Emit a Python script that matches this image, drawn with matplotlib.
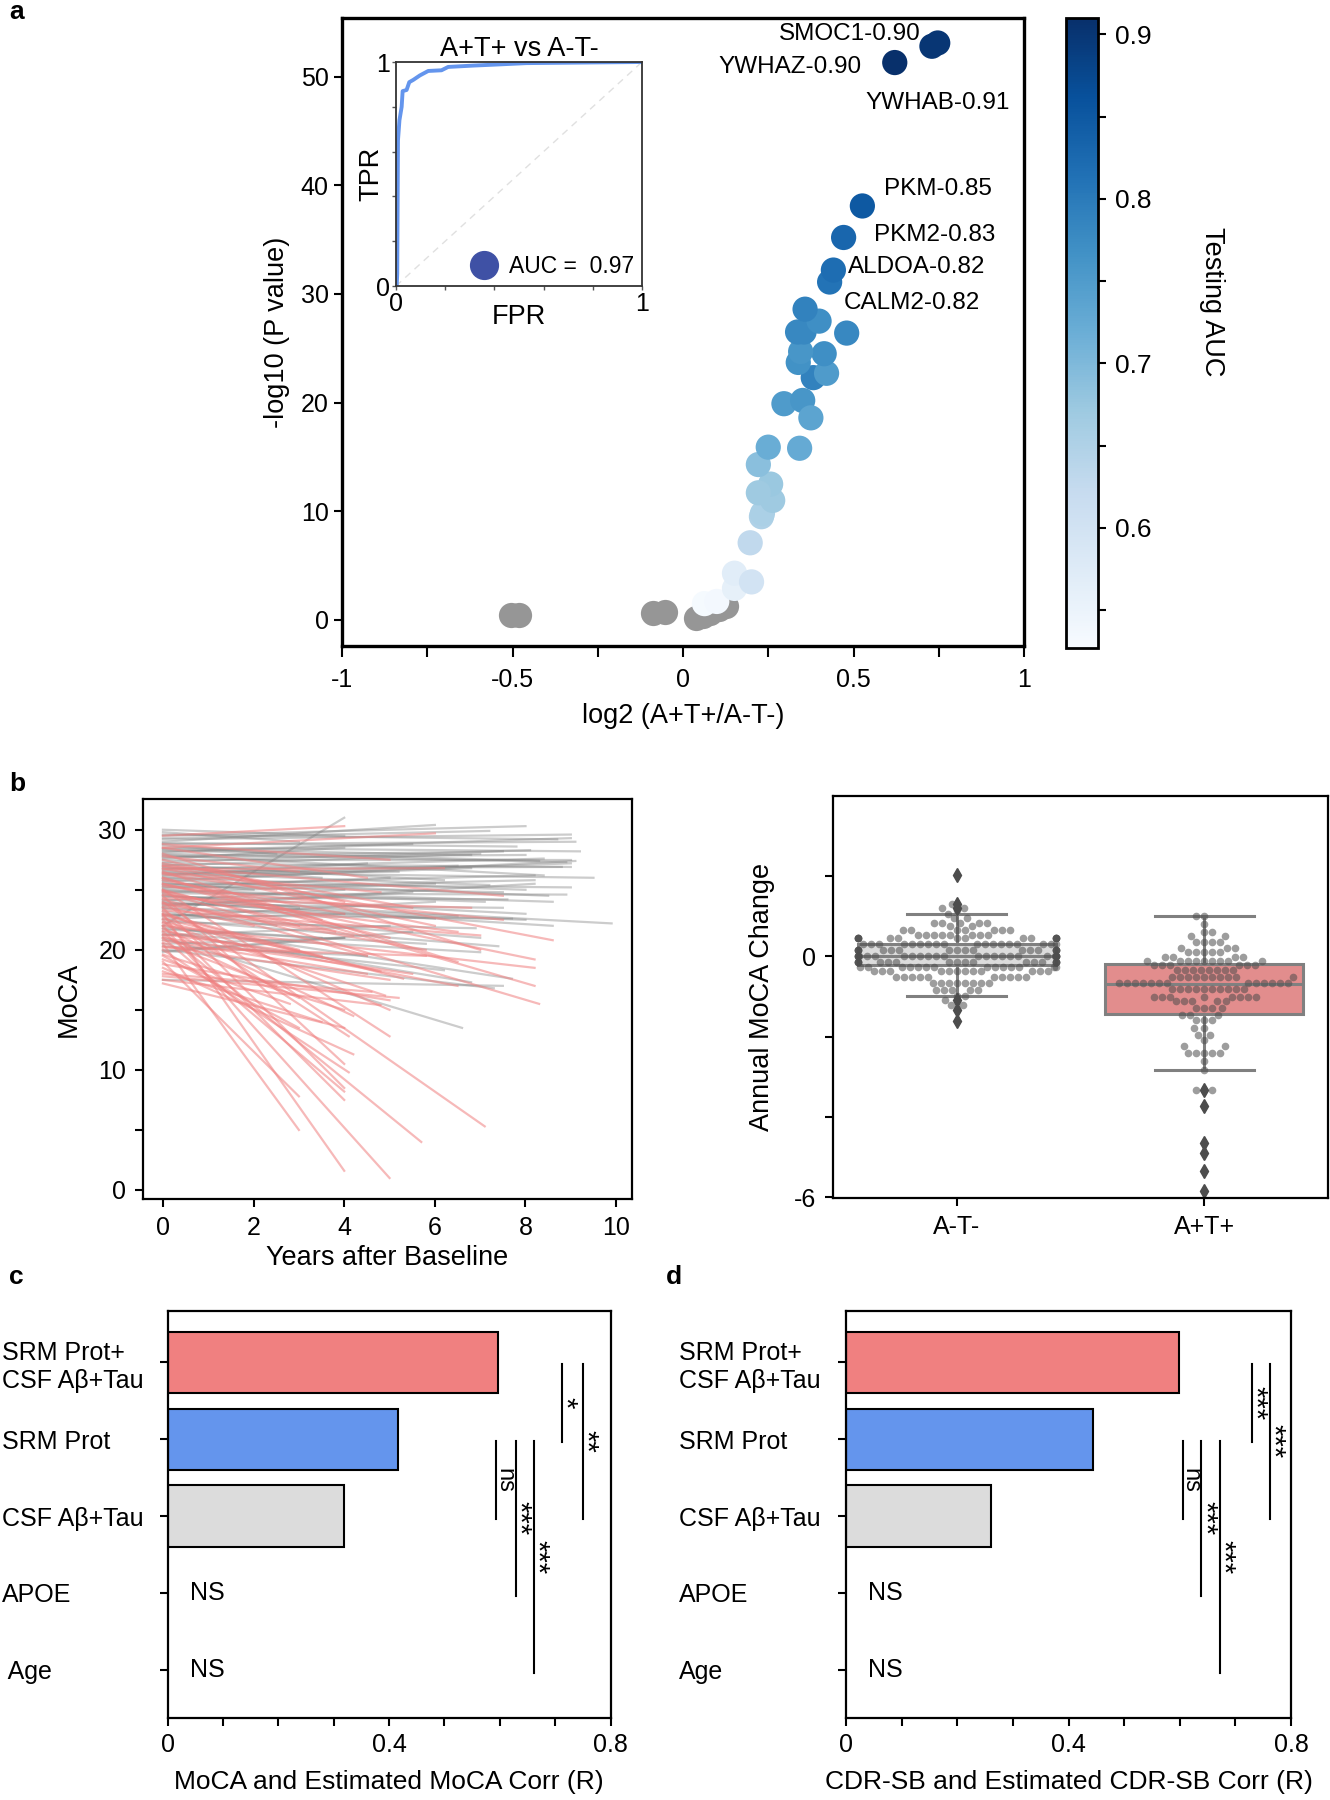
import warnings
import numpy as np
import matplotlib
matplotlib.use("Agg")
import matplotlib.pyplot as plt
from matplotlib.lines import Line2D
import seaborn as sns

warnings.filterwarnings("ignore")

# ---------------- data ----------------
# a: volcano, proteins that did not pass (grey)
ns_log2fc = [-0.503, -0.480, -0.089, -0.053, 0.037, 0.059, 0.079, 0.105, 0.125]
ns_logp = [0.48, 0.48, 0.68, 0.76, 0.20, 0.40, 0.68, 1.00, 1.30]

# a: proteins coloured by testing AUC
sig_log2fc = [0.063, 0.099, 0.151, 0.151, 0.201, 0.197, 0.230, 0.233, 0.263, 0.257,
              0.221, 0.221, 0.250, 0.342, 0.296, 0.351, 0.375, 0.382, 0.421, 0.414,
              0.338, 0.345, 0.336, 0.355, 0.399, 0.358, 0.480, 0.430, 0.441, 0.471,
              0.526, 0.621, 0.730, 0.747]
sig_logp = [1.5, 1.7, 2.9, 4.3, 3.5, 7.1, 9.5, 9.8, 11.0, 12.5,
            11.7, 14.3, 15.9, 15.8, 19.9, 20.2, 18.6, 22.3, 22.7, 24.5,
            23.7, 24.7, 26.5, 26.5, 27.5, 28.6, 26.4, 31.1, 32.2, 35.2,
            38.1, 51.3, 52.8, 53.1]
sig_auc = [0.53, 0.535, 0.56, 0.57, 0.60, 0.63, 0.65, 0.655, 0.67, 0.675,
           0.67, 0.69, 0.72, 0.725, 0.75, 0.76, 0.735, 0.79, 0.75, 0.77,
           0.765, 0.76, 0.78, 0.78, 0.77, 0.79, 0.78, 0.81, 0.82, 0.83,
           0.85, 0.91, 0.90, 0.90]

hit_gene = ["SMOC1", "YWHAZ", "YWHAB", "PKM", "PKM2", "ALDOA", "CALM2"]
hit_auc = [0.90, 0.90, 0.91, 0.85, 0.83, 0.82, 0.82]

# a inset: ROC curve
roc_fpr = [0.0, 0.003, 0.005, 0.008, 0.014, 0.023, 0.027, 0.043, 0.054, 0.07,
           0.097, 0.131, 0.185, 0.212, 0.314, 0.395, 0.53, 0.80, 1.0]
roc_tpr = [0.0, 0.003, 0.055, 0.65, 0.74, 0.80, 0.87, 0.875, 0.91, 0.92,
           0.94, 0.96, 0.963, 0.978, 0.984, 0.988, 0.995, 0.998, 1.0]
roc_auc = 0.97

# b left: MoCA trajectories (start score, years followed, end score)
neg_start = [30.0, 29.5, 29.2, 29.0, 28.8, 28.5, 28.3, 28.0, 27.8, 27.5,
             27.3, 27.0, 26.8, 26.5, 26.3, 26.0, 25.8, 25.5, 25.3, 25.0,
             24.8, 24.5, 24.2, 24.0, 23.8, 23.5, 23.0, 22.8, 22.5, 22.0,
             21.5, 21.0, 20.0, 19.8, 17.5, 22.0, 29.8, 28.7, 27.6, 26.9,
             26.2, 25.6, 25.2, 24.6, 24.1, 23.6, 23.2, 22.6, 21.8, 21.2,
             20.5, 28.1, 27.1, 26.6, 25.9, 24.9, 29.3, 28.4, 27.9, 26.1,
             25.1, 23.9, 29.6, 28.9, 28.2, 27.7, 27.2, 26.7, 26.4, 25.7,
             25.4, 24.7, 24.4, 23.7, 23.4, 22.9, 22.3, 21.7, 21.3, 20.8,
             20.3, 19.9]
neg_years = [4.0, 8.0, 9.0, 6.0, 9.1, 9.2, 8.3, 8.9, 7.5, 9.0,
             8.1, 7.0, 8.8, 9.5, 6.5, 8.0, 8.5, 9.0, 7.5, 8.6,
             6.0, 8.0, 9.9, 8.6, 7.5, 8.0, 7.0, 6.0, 7.4, 7.7,
             6.8, 6.6, 7.3, 4.0, 7.5, 4.0, 3.0, 2.5, 4.0, 3.5,
             4.5, 2.0, 5.0, 3.0, 4.0, 5.5, 2.5, 4.0, 3.5, 5.0,
             4.0, 5.5, 6.2, 5.2, 6.8, 7.1, 7.2, 6.8, 8.4, 9.0,
             8.2, 6.5, 8.7, 7.8, 9.0, 8.0, 9.0, 8.4, 7.2, 9.1,
             8.2, 8.9, 7.6, 8.2, 6.0, 7.7, 6.9, 5.8, 7.0, 6.2,
             4.5, 5.5]
neg_end = [29.5, 30.3, 29.6, 30.4, 29.0, 28.2, 27.4, 27.3, 28.2, 27.5,
           28.3, 28.0, 26.9, 26.0, 27.0, 25.0, 24.5, 25.2, 24.8, 24.0,
           25.5, 23.0, 22.2, 22.0, 23.5, 22.5, 21.0, 24.0, 20.3, 17.6,
           17.3, 13.5, 16.8, 21.0, 17.0, 31.0, 29.0, 28.0, 28.5, 26.0,
           27.2, 25.0, 26.0, 23.5, 25.0, 24.8, 22.0, 23.0, 21.0, 22.0,
           21.0, 28.8, 25.8, 26.5, 26.8, 24.0, 29.9, 27.9, 26.2, 27.2,
           25.8, 22.8, 29.2, 28.6, 29.3, 27.9, 26.9, 27.6, 25.4, 27.4,
           26.2, 24.6, 24.2, 25.5, 22.6, 22.6, 21.8, 20.5, 19.8, 18.3,
           19.5, 21.5]

pos_start = [22.0, 23.0, 21.5, 24.0, 20.5, 19.0, 22.5, 21.0, 23.5, 20.0,
             24.5, 18.5, 22.8, 17.2, 19.5, 25.0, 21.8, 17.5, 23.2, 18.0,
             18.8, 24.8, 26.0, 22.0, 25.5, 27.0, 20.3, 26.5, 21.0, 28.0,
             29.5, 28.5, 27.5, 26.0, 25.5, 24.2, 23.0, 27.2, 26.8, 25.0,
             24.6, 23.8, 22.6, 28.5, 27.8, 26.3, 25.8, 23.6, 22.3, 21.3,
             20.8, 28.8, 27.0, 25.3, 24.3, 26.7, 23.3, 21.6, 20.2, 19.6,
             18.2, 17.8, 22.9, 20.6, 21.2, 22.2, 19.2, 24.9, 26.4, 23.9]
pos_years = [5.0, 4.0, 5.7, 7.1, 3.0, 3.0, 4.0, 4.0, 4.0, 4.1,
             4.0, 4.2, 4.1, 4.0, 3.0, 5.0, 4.2, 4.8, 5.0, 4.6,
             5.0, 8.3, 8.2, 8.2, 8.2, 8.6, 5.0, 6.5, 5.5, 7.0,
             4.0, 6.0, 4.0, 3.5, 5.0, 4.5, 3.0, 5.5, 6.0, 3.0,
             6.5, 5.8, 4.8, 4.5, 3.0, 2.5, 4.0, 2.0, 3.5, 3.0,
             4.5, 5.0, 7.5, 7.5, 6.8, 6.2, 7.0, 6.5, 5.8, 4.0,
             3.5, 5.2, 5.3, 2.5, 3.0, 4.9, 2.8, 4.2, 4.8, 3.8]
pos_end = [1.0, 1.6, 4.0, 5.3, 5.0, 7.8, 7.5, 8.2, 8.5, 9.8,
           10.5, 11.3, 12.8, 13.5, 13.5, 12.8, 14.5, 15.4, 15.0, 16.5,
           15.8, 15.5, 17.0, 18.5, 19.2, 20.8, 17.5, 19.0, 18.0, 20.0,
           30.3, 29.7, 24.0, 22.5, 21.0, 19.5, 20.0, 23.5, 22.0, 22.0,
           21.5, 20.0, 18.2, 26.0, 26.5, 25.0, 23.0, 22.0, 19.5, 19.8,
           18.0, 27.5, 24.5, 22.5, 23.5, 26.8, 21.2, 17.0, 19.5, 15.0,
           14.0, 16.0, 17.6, 17.0, 16.0, 16.2, 15.5, 21.2, 24.8, 21.5]

# b right: annual MoCA change (value, number of subjects)
groups = ["A-T-", "A+T+"]
neg_change = [2.02, 1.31, 1.2, 1.15, 1.06, 0.95, 0.83, 0.75, 0.66, 0.54, 0.45, 0.32,
              0.16, 0.0, -0.15, -0.25, -0.37, -0.5, -0.65, -0.83, -0.98, -1.08, -1.2,
              -1.33, -1.62]
neg_count = [1, 1, 2, 1, 1, 2, 5, 2, 7, 8, 14, 18, 18, 26, 18, 14, 12, 10, 8, 5, 2, 1, 2,
             1, 1]
pos_change = [1.01, 0.81, 0.62, 0.5, 0.35, 0.2, 0.1, -0.02, -0.12, -0.22, -0.33, -0.5,
              -0.65, -0.81, -1.0, -1.12, -1.28, -1.45, -1.58, -1.78, -1.95, -2.07, -2.24,
              -2.4, -2.6, -2.82, -3.32, -3.73, -4.65, -4.9, -5.35, -5.85]
pos_count = [2, 1, 2, 2, 4, 3, 5, 4, 9, 6, 8, 10, 13, 10, 8, 5, 4, 3, 3, 2, 2, 1, 2, 5,
             1, 1, 3, 1, 1, 1, 1, 1]
box_med = [0.0, -0.68]
box_q1 = [-0.22, -1.43]
box_q3 = [0.32, -0.19]
box_lo = [-0.98, -2.82]
box_hi = [1.06, 1.0]
box_fliers = [[2.02, 1.31, 1.2, -1.08, -1.33, -1.62],
              [-3.32, -3.73, -4.65, -4.9, -5.35, -5.85]]

# c, d: correlation of estimated vs observed scores
predictors_c = ["SRM Prot+\nCSF A\u03b2+Tau", "SRM Prot", "CSF A\u03b2+Tau", "APOE", " Age"]
predictors_d = ["SRM Prot+\nCSF A\u03b2+Tau", "SRM Prot", "CSF A\u03b2+Tau", "APOE", "Age"]
moca_r = [0.596, 0.417, 0.318]
cdr_r = [0.599, 0.444, 0.261]
not_sig = [3, 4]
moca_tests = [(1, 2, "ns"), (1, 3, "***"), (1, 4, "***"), (0, 1, "*"), (0, 2, "**")]
cdr_tests = [(1, 2, "ns"), (1, 3, "***"), (1, 4, "***"), (0, 1, "***"), (0, 2, "***")]

# ---------------- style ----------------
plt.rcParams["font.family"] = ["Liberation Sans", "DejaVu Sans"]
plt.rcParams["font.size"] = 18
W, H = 1330, 1800
TICK = 18
LAB = 19.5
bar_colors = ["lightcoral", "cornflowerblue", "gainsboro"]


def box(left, top, right, bottom):
    return [left / W, 1 - bottom / H, (right - left) / W, (bottom - top) / H]


def frame(ax, lw):
    for sp in ax.spines.values():
        sp.set_linewidth(lw)
        sp.set_color("black")


fig = plt.figure(figsize=(W / 100, H / 100), dpi=100)

# ---------------- a ----------------
ax = fig.add_axes(box(342, 18, 1024, 646))
ax.scatter(ns_log2fc, ns_logp, s=330, color="#969696", linewidths=0, zorder=2)
sc = ax.scatter(sig_log2fc, sig_logp, c=sig_auc, cmap="Blues", vmin=0.527, vmax=0.91,
                s=330, linewidths=0, zorder=3)
hit_xy = [(0.28, 53.9), (0.105, 50.9), (0.535, 47.6), (0.59, 39.7), (0.56, 35.4),
          (0.485, 32.5), (0.47, 29.2)]
for gene, auc, (tx, ty) in zip(hit_gene, hit_auc, hit_xy):
    ax.text(tx, ty, f"{gene}-{auc:.2f}", fontsize=17.5, ha="left", va="center", zorder=4)
ax.set_xlim(-1, 1)
ax.set_ylim(-2.4, 55.4)
ax.set_xticks([-1, -0.5, 0, 0.5, 1])
ax.set_xticklabels(["-1", "-0.5", "0", "0.5", "1"])
ax.set_xticks([-0.75, -0.25, 0.25, 0.75], minor=True)
ax.set_yticks(range(0, 51, 10))
ax.tick_params(which="both", direction="out", length=6, width=1.5, labelsize=TICK)
ax.tick_params(axis="x", which="both", length=8, pad=8)
frame(ax, 2.4)
ax.set_xlabel("log2 (A+T+/A-T-)", fontsize=LAB, labelpad=8)
ax.set_ylabel("-log10 (P value)", fontsize=LAB, labelpad=8)

# inset ROC
axi = fig.add_axes(box(396, 62, 642, 286))
axi.plot([0, 1], [0, 1], color="#e0e0e0", lw=1, ls=(0, (5, 4)))
axi.plot(roc_fpr, roc_tpr, color="#6495ED", lw=2.8)
axi.set_xlim(0, 1)
axi.set_ylim(0, 1)
axi.set_xticks([0, 1])
axi.set_xticklabels(["0", "1"])
axi.set_yticks([0, 1])
axi.set_yticklabels(["0", "1"])
axi.set_xticks([0.2, 0.4, 0.6, 0.8], minor=True)
axi.set_yticks([0.2, 0.4, 0.6, 0.8], minor=True)
axi.tick_params(which="both", length=3, width=1, color="#555555", labelsize=TICK, pad=1)
for sp in axi.spines.values():
    sp.set_linewidth(1.3)
    sp.set_color("#333333")
axi.set_title("A+T+ vs A-T-", fontsize=19.5, pad=3)
axi.set_xlabel("FPR", fontsize=LAB, labelpad=-8)
axi.set_ylabel("TPR", fontsize=LAB, labelpad=-6)
axi.legend(handles=[Line2D([], [], ls="", marker="o", ms=20, color="#3F51A5")],
           labels=[f"AUC =  {roc_auc:.2f}"], loc="lower right", frameon=False,
           fontsize=16.5, handletextpad=0.1, borderaxespad=0.15, borderpad=0.2)

# colorbar
cax = fig.add_axes(box(1066, 18, 1098, 648))
cb = fig.colorbar(sc, cax=cax)
cb.set_ticks([0.6, 0.7, 0.8, 0.9])
cb.set_ticks([0.55, 0.65, 0.75, 0.85], minor=True)
cb.outline.set_linewidth(2)
cax.tick_params(which="both", direction="out", length=6, width=1.5, labelsize=19, pad=6)
cax.text(4.55, 0.55, "Testing AUC", rotation=270, ha="center", va="center",
         fontsize=LAB, transform=cax.transAxes)

# ---------------- b left ----------------
axb = fig.add_axes(box(143, 799, 632, 1199))
for s0, t, s1 in zip(neg_start, neg_years, neg_end):
    axb.plot([0, t], [s0, s1], color="gray", alpha=0.4, lw=1.6)
for s0, t, s1 in zip(pos_start, pos_years, pos_end):
    axb.plot([0, t], [s0, s1], color="lightcoral", alpha=0.55, lw=1.6)
axb.set_xlim(-0.44, 10.35)
axb.set_ylim(-0.75, 32.56)
axb.set_xticks(range(0, 11, 2))
axb.set_yticks([0, 10, 20, 30])
axb.set_yticks([5, 15, 25], minor=True)
axb.tick_params(which="both", direction="out", length=6, width=1.5, labelsize=TICK, pad=6)
frame(axb, 1.6)
axb.set_xlabel("Years after Baseline", fontsize=LAB, labelpad=4)
axb.set_ylabel("MoCA", fontsize=LAB, labelpad=12)

# ---------------- b right ----------------
axs = fig.add_axes(box(833, 796, 1328, 1198))
axs.set_xlim(-0.5, 1.5)
axs.set_ylim(-6.02, 4.0)
stats = []
for i, g in enumerate(groups):
    stats.append(dict(label=g, med=box_med[i], q1=box_q1[i], q3=box_q3[i],
                      whislo=box_lo[i], whishi=box_hi[i], fliers=box_fliers[i]))
bp = axs.bxp(stats, positions=[0, 1], widths=0.8, capwidths=0.4, patch_artist=True,
             boxprops=dict(edgecolor="#808080", linewidth=2.2),
             medianprops=dict(color="#808080", linewidth=2.2),
             whiskerprops=dict(color="#808080", linewidth=2.2),
             capprops=dict(color="#808080", linewidth=2.2),
             flierprops=dict(marker="d", markerfacecolor="#4d4d4d",
                             markeredgecolor="#4d4d4d", markersize=7))
for patch, fc in zip(bp["boxes"], ["#DCDCDC", "#E28D8D"]):
    patch.set_facecolor(fc)
sw_group = ["A-T-"] * sum(neg_count) + ["A+T+"] * sum(pos_count)
sw_val = list(np.repeat(neg_change, neg_count)) + list(np.repeat(pos_change, pos_count))
sns.swarmplot(x=sw_group, y=sw_val, order=groups, color="0.3", alpha=0.55, size=5.5,
              ax=axs, zorder=3)
axs.set_xlim(-0.5, 1.5)
axs.set_ylim(-6.02, 4.0)
axs.set_xticks([0, 1])
axs.set_xticklabels(groups)
axs.set_yticks([-6, -4, -2, 0, 2])
axs.set_yticklabels(["-6", "", "", "0", ""])
axs.tick_params(which="both", direction="out", length=6, width=1.5, labelsize=TICK, pad=6)
axs.set_xlabel("")
frame(axs, 1.6)
axs.set_ylabel("Annual MoCA Change", fontsize=LAB, labelpad=14)


# ---------------- c, d ----------------
def corr_panel(rect, values, names, tests, line_x, xlabel, pad):
    a = fig.add_axes(rect)
    a.barh(range(len(values)), values, height=0.8, color=bar_colors,
           edgecolor="black", linewidth=1.5)
    for k in not_sig:
        a.text(0.04, k, "NS", fontsize=TICK, ha="left", va="center")
    for (i, j, lab), x in zip(tests, line_x):
        y0, y1 = i + 0.02, j + 0.04
        a.plot([x, x], [y0, y1], color="black", lw=1.5)
        if lab == "ns":
            a.text(x + 0.014, (y0 + y1) / 2, lab, rotation=270, ha="center",
                   va="center", fontsize=17)
        else:
            a.text(x + 0.006, (y0 + y1) / 2, lab, rotation=270, ha="center",
                   va="center", fontsize=21)
    a.set_xlim(0, 0.8)
    a.set_ylim(4.63, -0.67)
    a.set_yticks(range(len(names)))
    a.set_yticklabels(names)
    for t in a.get_yticklabels():
        t.set_ha("left")
    a.set_xticks([0, 0.4, 0.8])
    a.set_xticklabels(["0", "0.4", "0.8"])
    a.set_xticks([0.1, 0.2, 0.3, 0.5, 0.6, 0.7], minor=True)
    a.tick_params(which="both", direction="out", length=6, width=1.5, labelsize=TICK)
    a.tick_params(axis="x", which="both", pad=5)
    a.tick_params(axis="y", pad=pad)
    frame(a, 1.6)
    a.set_xlabel(xlabel, fontsize=19, labelpad=9)
    return a


corr_panel(box(167.5, 1311, 610.5, 1718), moca_r, predictors_c, moca_tests,
           [0.594, 0.629, 0.662, 0.7125, 0.750], "MoCA and Estimated MoCA Corr (R)", 113)
corr_panel(box(846, 1311, 1291, 1718), cdr_r, predictors_d, cdr_tests,
           [0.605, 0.639, 0.672, 0.729, 0.762], "CDR-SB and Estimated CDR-SB Corr (R)", 114)

# panel tags
for tag, x, y in [("a", 9, 12), ("b", 9, 784), ("c", 9, 1277), ("d", 666, 1277)]:
    fig.text(x / W, 1 - y / H, tag, fontsize=19, fontweight="bold", ha="left", va="center")

fig.savefig("out.png", dpi=100)
